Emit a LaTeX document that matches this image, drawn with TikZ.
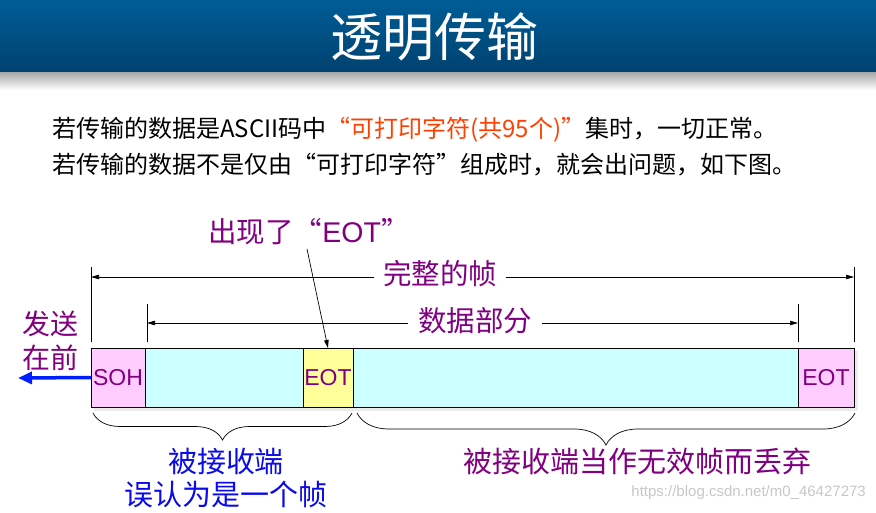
\documentclass[tikz,border=0pt]{standalone}
\usepackage{fontspec}
\usepackage{graphicx}
\setmainfont{Noto Sans CJK SC}
\newfontfamily\lat{Liberation Sans}
\usetikzlibrary{decorations.pathreplacing,arrows.meta}
\definecolor{titleTop}{RGB}{0,92,150}
\definecolor{titleBot}{RGB}{0,66,112}
\definecolor{purp}{RGB}{128,0,128}
\definecolor{redo}{RGB}{255,64,0}
\definecolor{pinkc}{RGB}{255,204,255}
\definecolor{cyanc}{RGB}{204,255,255}
\definecolor{yelc}{RGB}{255,255,153}
\definecolor{bluet}{RGB}{10,10,235}
\definecolor{bluea}{RGB}{0,30,255}
\tikzset{
  cell/.style={draw=black, line width=0.9pt, minimum height=59pt, inner sep=0pt, outer sep=0pt,
    font=\lat\fontsize{23}{24}\selectfont, text=purp, anchor=north west},
  lbl/.style={text=purp, font=\fontsize{28.5}{32}\selectfont, inner sep=0pt},
  body/.style={anchor=west, inner sep=0pt, font=\fontsize{24}{26}\selectfont},
  dim/.style={line width=0.7pt, -{Triangle[length=8pt,width=4.5pt]}},
  tick/.style={line width=0.7pt},
  brc/.style={line width=0.7pt, decorate, decoration={brace, mirror, amplitude=#1}}
}
\begin{document}
\begin{tikzpicture}[x=1pt,y=-1pt]
\useasboundingbox (0,0) rectangle (876,512);
% title bar
\shade[top color=titleTop, bottom color=titleBot] (0,0) rectangle (876,72);
\shade[top color=black!35, bottom color=white] (0,72) rectangle (876,90);
\node[text=white, font=\fontsize{52}{54}\selectfont, inner sep=0pt] (title) at (434,37) {透明传输};
% body text
\node[body] (l1) at (52,130) {若传输的数据是ASCII码中\textcolor{redo}{“可打印字符(共95个)”}集时，一切正常。};
\node[body] (l2) at (52,165) {若传输的数据不是仅由“可打印字符”组成时，就会出问题，如下图。};
% frame shadow
\fill[black!8] (94,351) rectangle (858,411);
% frame cells
\node[cell, fill=pinkc, minimum width=54pt] (soh) at (91,348) {SOH};
\node[cell, fill=cyanc, minimum width=158pt] (d1) at (soh.north east) {};
\node[cell, fill=yelc, minimum width=50pt] (eot1) at (d1.north east) {EOT};
\node[cell, fill=cyanc, minimum width=445pt] (d2) at (eot1.north east) {};
\node[cell, fill=pinkc, minimum width=56pt] (eot2) at (d2.north east) {EOT};
% ticks
\coordinate (t1a) at (91,267);  \coordinate (t1b) at (91,342);
\coordinate (t2a) at (147,304); \coordinate (t2b) at (147,342);
\coordinate (t3a) at (798,304); \coordinate (t3b) at (798,342);
\coordinate (t4a) at (854,267); \coordinate (t4b) at (854,342);
\draw[tick] (t1a) -- (t1b);
\draw[tick] (t2a) -- (t2b);
\draw[tick] (t3a) -- (t3b);
\draw[tick] (t4a) -- (t4b);
% dimension arrows
\node[lbl, inner xsep=9pt] (whole) at (440,274) {完整的帧};
\coordinate (w1) at (91,277); \coordinate (w2) at (854,277);
\draw[dim] (whole.west |- w1) -- (w1);
\draw[dim] (whole.east |- w2) -- (w2);
\node[lbl, inner xsep=10pt] (data) at (475,321) {数据部分};
\coordinate (p1) at (147,323); \coordinate (p2) at (798,323);
\draw[dim] (data.west |- p1) -- (p1);
\draw[dim] (data.east |- p2) -- (p2);
% EOT appears label
\node[lbl] (eotlbl) at (309,232) {出现了“{\lat EOT}”};
\coordinate (ea) at (307,249);
\draw[line width=0.7pt, -{Triangle[length=8pt,width=4.5pt]}] (ea) -- (eot1.north);
% send first
\node[lbl, align=center, font=\fontsize{28}{34}\selectfont] (send) at (50,341) {发送\\在前};
\coordinate (bl) at (18,378);
\draw[bluea, line width=3.5pt, -{Triangle[length=14pt,width=12pt]}] (soh.west) -- (bl);
% braces
\coordinate (b1a) at (93,413); \coordinate (b1b) at (352,413);
\coordinate (b2a) at (357,413); \coordinate (b2b) at (855,413);
\draw[brc=27pt] (b1a) -- (b1b);
\draw[brc=32pt] (b2a) -- (b2b);
\node[text=bluet, font=\fontsize{29}{33}\selectfont, align=center, inner sep=0pt] (recv1) at (226,478) {被接收端\\误认为是一个帧};
\node[lbl, font=\fontsize{29}{32}\selectfont] (recv2) at (637,461) {被接收端当作无效帧而丢弃};
% watermark
\node[anchor=east, text=black!22, font=\lat\fontsize{15}{16}\selectfont, inner sep=0pt] (wm) at (866,493) {https://blog.csdn.net/m0\_46427273};
\end{tikzpicture}
\end{document}
